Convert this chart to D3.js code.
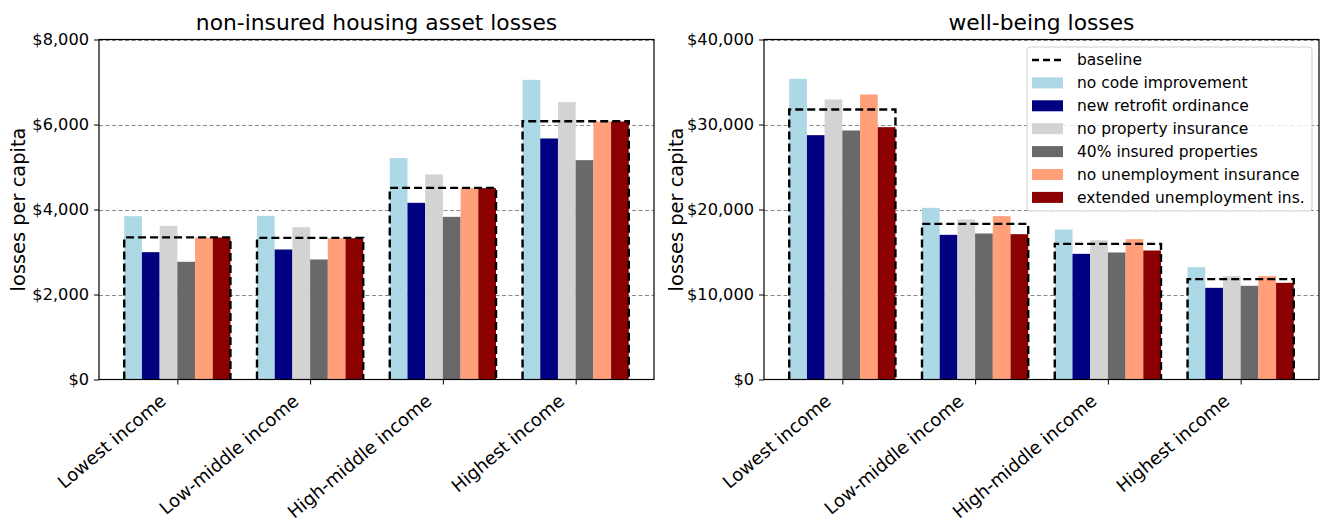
<!DOCTYPE html>
<html><head><meta charset="utf-8">
<script src="https://cdn.jsdelivr.net/npm/d3@7"></script>
<style>
body{margin:0;background:#fff;}
svg{display:block;font-family:"DejaVu Sans",sans-serif;}
</style></head>
<body><svg id="chart" width="1320" height="521"></svg>
<script>
const categories = ["Lowest income","Low-middle income","High-middle income","Highest income"];
const seriesNames = ["no code improvement","new retrofit ordinance","no property insurance","40% insured properties","no unemployment insurance","extended unemployment ins."];
const seriesColors = ["#add8e6","#000080","#d3d3d3","#696969","#ffa07a","#8b0000"];
const baselineName = "baseline";

// non-insured housing asset losses (per series, per category)
const assetBaseline = [3345, 3333, 4510, 6078];
const assetNoCode     = [3843, 3851, 5208, 7051];
const assetRetrofit   = [2996, 3059, 4157, 5671];
const assetNoPropIns  = [3616, 3584, 4824, 6525];
const assetInsured40  = [2769, 2824, 3827, 5161];
const assetNoUnemp    = [3341, 3325, 4502, 6071];
const assetExtUnemp   = [3341, 3325, 4502, 6071];

// well-being losses
const wellBaseline = [31765, 18314, 15961, 11804];
const wellNoCode     = [35373, 20196, 17647, 13216];
const wellRetrofit   = [28745, 17020, 14784, 10784];
const wellNoPropIns  = [32941, 18824, 16392, 12157];
const wellInsured40  = [29294, 17176, 14941, 11020];
const wellNoUnemp    = [33529, 19216, 16510, 12157];
const wellExtUnemp   = [29686, 17098, 15176, 11373];

const assetTicks = [0, 2000, 4000, 6000, 8000];
const wellTicks = [0, 10000, 20000, 30000, 40000];

const panels = [
  {title:"non-insured housing asset losses", x0:99, x1:654, max:8000, ticks:assetTicks,
   base:assetBaseline, series:[assetNoCode,assetRetrofit,assetNoPropIns,assetInsured40,assetNoUnemp,assetExtUnemp], legend:false, ylabX:24.5},
  {title:"well-being losses", x0:764, x1:1319, max:40000, ticks:wellTicks,
   base:wellBaseline, series:[wellNoCode,wellRetrofit,wellNoPropIns,wellInsured40,wellNoUnemp,wellExtUnemp], legend:true, ylabX:683}
];

const svg = d3.select("#chart");
const yTop = 39.5, yBot = 379.5;
const nS = seriesNames.length;
const groupW = 0.8, barW = groupW / nS;
const fmt = d3.format(",");

panels.forEach(p => {
  const x = d3.scaleLinear().domain([-0.59, categories.length - 1 + 0.59]).range([p.x0, p.x1]);
  const y = d3.scaleLinear().domain([0, p.max]).range([yBot, yTop]);
  const g = svg.append("g");

  // grid
  g.append("g").selectAll("line").data(p.ticks.slice(1)).join("line")
    .attr("x1", p.x0).attr("x2", p.x1)
    .attr("y1", d => Math.round(y(d)) + 0.5).attr("y2", d => Math.round(y(d)) + 0.5)
    .attr("stroke", "#8a8a8a").attr("stroke-width", 1).attr("stroke-dasharray", "4,2.5");

  // bars
  p.series.forEach((vals, si) => {
    g.append("g").selectAll("rect").data(vals).join("rect")
      .attr("x", (d, ci) => x(ci - groupW / 2 + si * barW))
      .attr("width", x(barW) - x(0))
      .attr("y", d => y(d))
      .attr("height", d => yBot - y(d))
      .attr("fill", seriesColors[si]);
  });

  // baseline dashed boxes
  g.append("g").selectAll("path").data(p.base).join("path")
    .attr("d", (d, ci) => {
      const xa = x(ci - groupW / 2), xb = x(ci + groupW / 2), yy = y(d);
      return `M${xa},${yBot}L${xa},${yy}L${xb},${yy}L${xb},${yBot}`;
    })
    .attr("fill", "none").attr("stroke", "#000").attr("stroke-width", 2.4)
    .attr("stroke-dasharray", "8,4");

  // axes
  const yAxis = g.append("g").attr("transform", `translate(${p.x0},0)`)
    .call(d3.axisLeft(y).tickValues(p.ticks).tickFormat(d => "$" + fmt(d)).tickSize(5).tickPadding(5));
  yAxis.select(".domain").remove();
  yAxis.selectAll("text").attr("font-size", 16.2).attr("fill", "#000").attr("font-family", "DejaVu Sans");
  yAxis.selectAll("line").attr("stroke", "#000");

  const xAxis = g.append("g").attr("transform", `translate(0,${yBot})`)
    .call(d3.axisBottom(x).tickValues(d3.range(categories.length)).tickFormat(i => categories[i]).tickSize(5));
  xAxis.select(".domain").remove();
  xAxis.selectAll("line").attr("stroke", "#000");
  xAxis.selectAll("text")
    .attr("font-size", 18).attr("fill", "#000").attr("font-family", "DejaVu Sans")
    .attr("text-anchor", "end").attr("x", 0).attr("y", 0).attr("dy", 0)
    .attr("transform", "translate(-10.5,23.5) rotate(-40)");

  // frame
  g.append("rect").attr("x", p.x0).attr("y", yTop).attr("width", p.x1 - p.x0).attr("height", yBot - yTop)
    .attr("fill", "none").attr("stroke", "#000").attr("stroke-width", 1.2);

  // title
  g.append("text").attr("x", (p.x0 + p.x1) / 2).attr("y", 29.5).attr("text-anchor", "middle")
    .attr("font-size", 21.8).attr("fill", "#000").text(p.title);

  // y label
  g.append("text").attr("transform", `translate(${p.ylabX},${(yTop + yBot) / 2}) rotate(-90)`)
    .attr("text-anchor", "middle").attr("font-size", 19.4).attr("fill", "#000").text("losses per capita");

  if (p.legend) {
    const lx = 1027, ly = 47, lw = 285, lh = 164, rowH = 22.9;
    const lg = g.append("g");
    lg.append("rect").attr("x", lx).attr("y", ly).attr("width", lw).attr("height", lh)
      .attr("rx", 3).attr("fill", "#fff").attr("fill-opacity", 0.8).attr("stroke", "#d0d0d0").attr("stroke-width", 1);
    const items = [{name: baselineName, type: "line"}].concat(seriesNames.map((n, i) => ({name: n, type: "patch", color: seriesColors[i]})));
    const rows = lg.selectAll("g.row").data(items).join("g").attr("class", "row")
      .attr("transform", (d, i) => `translate(${lx + 5},${ly + 13 + i * rowH})`);
    rows.filter(d => d.type === "line").append("line")
      .attr("x1", 0).attr("x2", 31).attr("y1", 0).attr("y2", 0)
      .attr("stroke", "#000").attr("stroke-width", 2.4).attr("stroke-dasharray", "7,4");
    rows.filter(d => d.type === "patch").append("rect")
      .attr("x", 0).attr("y", -5.5).attr("width", 31).attr("height", 11).attr("fill", d => d.color);
    rows.append("text").attr("x", 45).attr("y", 0).attr("dy", "0.35em")
      .attr("font-size", 15.5).attr("fill", "#000").text(d => d.name);
  }
});
</script>
</body></html>
